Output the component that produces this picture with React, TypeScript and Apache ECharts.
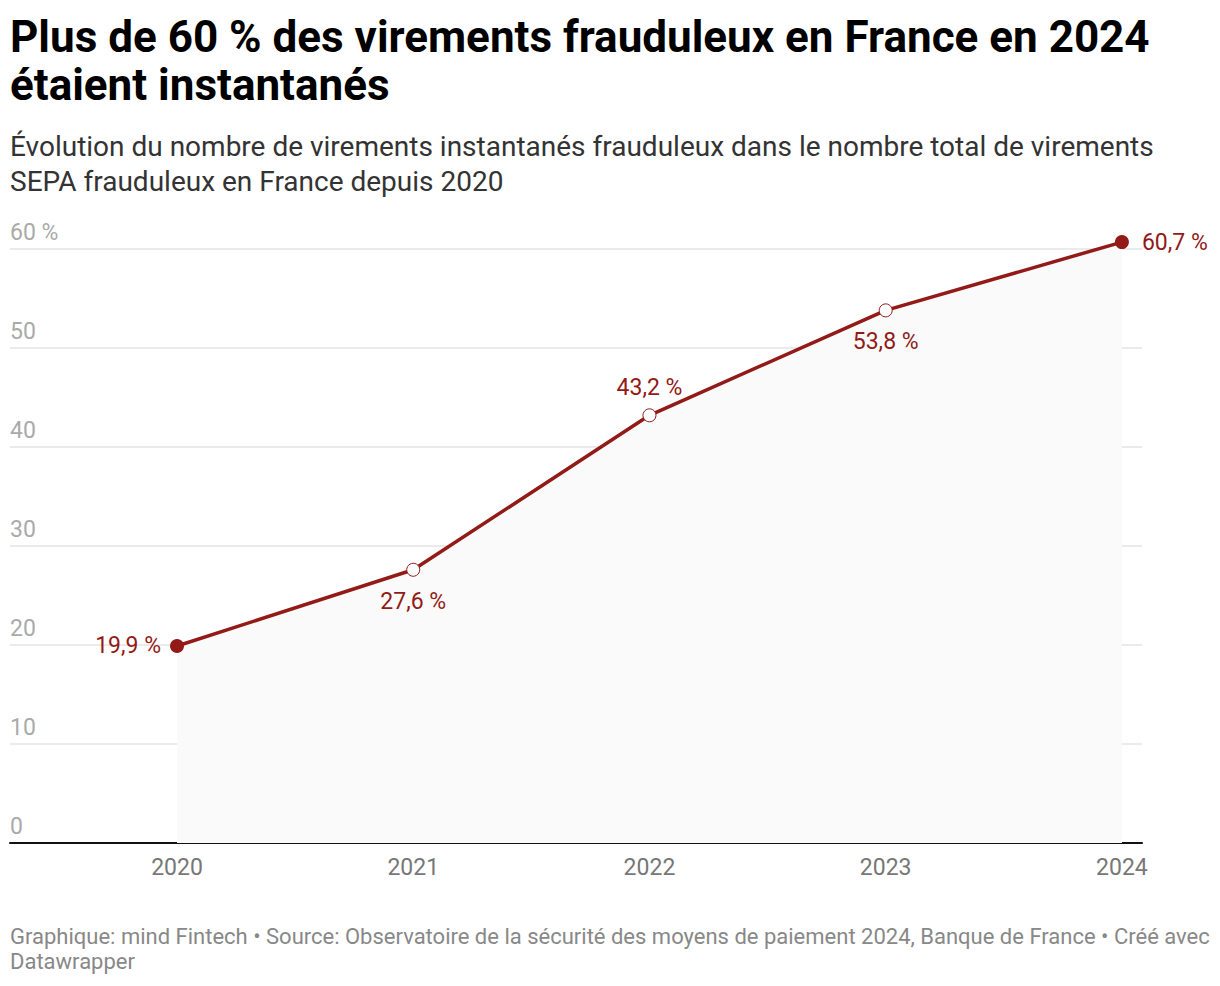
import React, { useEffect, useRef } from "react";
import * as echarts from "echarts";

const years = [2020, 2021, 2022, 2023, 2024];
const shares = [19.9, 27.6, 43.2, 53.8, 60.7];
const labelPositions = ["left", "bottom", "top", "bottom", "right"];
const yTicks = [0, 10, 20, 30, 40, 50, 60];

const titleText = "Plus de 60 % des virements frauduleux en France en 2024\nétaient instantanés";
const subtitleText =
  "Évolution du nombre de virements instantanés frauduleux dans le nombre total de virements\nSEPA frauduleux en France depuis 2020";
const footerText =
  "Graphique: mind Fintech • Source: Observatoire de la sécurité des moyens de paiement 2024, Banque de France • Créé avec\nDatawrapper";

const RED = "#921a17";
const FONT = "Roboto, 'Noto Sans', sans-serif";

export default function App() {
  const ref = useRef<HTMLDivElement>(null);
  useEffect(() => {
    document.body.style.margin = "0";
    if (!ref.current) return;
    const chart = echarts.init(ref.current, null, { renderer: "svg" });
    const last = years.length - 1;
    const data = years.map((y, i) => {
      const end = i === 0 || i === last;
      const pos = labelPositions[i];
      return {
        value: [y, shares[i]],
        symbolSize: end ? 14 : 13,
        itemStyle: end
          ? { color: RED, borderColor: RED, borderWidth: 0 }
          : { color: "#ffffff", borderColor: RED, borderWidth: 1 },
        label: {
          show: true,
          position: pos,
          distance: pos === "left" ? 9 : pos === "right" ? 13 : pos === "bottom" ? 13 : 9,
          formatter: shares[i].toFixed(1).replace(".", ",") + " %",
          color: RED,
          fontSize: 23,
          fontFamily: FONT,
        },
      };
    });
    chart.setOption({
      animation: false,
      textStyle: { fontFamily: FONT },
      title: [
        {
          text: titleText,
          left: 10,
          top: 13,
          padding: 0,
          textStyle: { fontSize: 44, lineHeight: 48, fontWeight: "bold", color: "#000", fontFamily: FONT },
        },
        {
          text: subtitleText,
          left: 10,
          top: 129,
          padding: 0,
          textStyle: { fontSize: 28, lineHeight: 35, fontWeight: "normal", color: "#333", fontFamily: FONT },
        },
        {
          text: footerText,
          left: 10,
          top: 924,
          padding: 0,
          textStyle: { fontSize: 22, lineHeight: 25, fontWeight: "normal", color: "#888", fontFamily: FONT },
        },
      ],
      grid: { left: 10, right: 78, top: 249, bottom: 143, containLabel: false },
      xAxis: {
        type: "value",
        min: 2019.293,
        max: 2024.085,
        splitLine: { show: false },
        axisLine: { show: true, lineStyle: { color: "#111", width: 2 } },
        axisTick: { show: false },
        axisLabel: {
          customValues: years,
          formatter: (v: number) => String(Math.round(v)),
          color: "#777",
          fontSize: 23,
          margin: 13,
          fontFamily: FONT,
        },
      },
      yAxis: {
        type: "value",
        min: 0,
        max: 60,
        interval: 10,
        axisLine: { show: false },
        axisTick: { show: false },
        splitLine: { lineStyle: { color: "#e4e4e4", width: 1.5 } },
        axisLabel: {
          inside: true,
          margin: 0,
          verticalAlign: "bottom",
          padding: [0, 0, 5, 0],
          color: "#aaa",
          fontSize: 23,
          fontFamily: FONT,
          formatter: (v: number) => (v === yTicks[yTicks.length - 1] ? v + " %" : String(v)),
        },
      },
      series: [
        {
          type: "line",
          data,
          clip: false,
          symbol: "circle",
          lineStyle: { color: RED, width: 3.5 },
          areaStyle: { color: "#fafafa", opacity: 1 },
          z: 3,
        },
      ],
    });
    return () => chart.dispose();
  }, []);
  return <div ref={ref} style={{ width: 1220, height: 986 }} />;
}
